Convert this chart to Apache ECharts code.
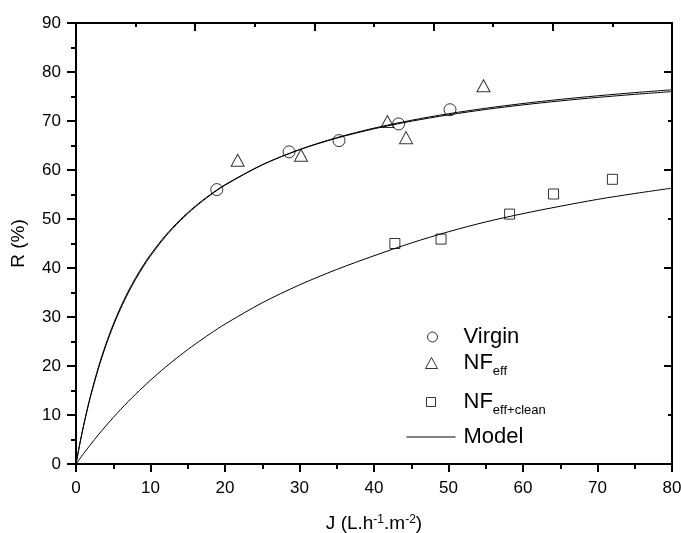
<!DOCTYPE html>
<html>
<head>
<meta charset="utf-8">
<script src="https://cdn.jsdelivr.net/npm/echarts@6/dist/echarts.min.js"></script>
<style>
  html, body { margin: 0; padding: 0; background: #fff; }
  #chart { width: 681px; height: 533px; }
</style>
</head>
<body>
<div id="chart"></div>
<script>
// Measured rejection R (%) against permeate flux J (L.h-1.m-2)
const virginJ = [18.9, 28.6, 35.3, 43.3, 50.2];
const virginR = [56.0, 63.7, 66.0, 69.4, 72.3];

const nfEffJ = [21.7, 30.2, 41.8, 44.3, 54.7];
const nfEffR = [62.0, 63.0, 69.9, 66.6, 77.2];

const nfCleanJ = [42.8, 49.0, 58.2, 64.1, 72.0];
const nfCleanR = [45.0, 45.9, 51.0, 55.1, 58.1];

// Model curves, sampled along the flux axis
const modelJ = [0, 0.5, 1, 1.5, 2, 3, 4, 5, 6, 7, 8, 9, 10, 12, 14, 16, 18, 20,
                25, 30, 35, 40, 45, 50, 55, 60, 65, 70, 75, 80];
const modelVirgin = [0, 4.07, 7.77, 11.15, 14.25, 19.73, 24.43, 28.5, 32.06, 35.21, 38.0, 40.5, 42.75,
                     46.64, 49.88, 52.62, 54.96, 57.0, 61.07, 64.13, 66.5, 68.4, 69.95, 71.25,
                     72.35, 73.29, 74.1, 74.81, 75.44, 76.0];
const modelNfEff = [0, 3.99, 7.63, 10.96, 14.02, 19.44, 24.11, 28.17, 31.73, 34.88, 37.68, 40.2, 42.46,
                    46.39, 49.66, 52.44, 54.83, 56.9, 61.05, 64.17, 66.6, 68.55, 70.14, 71.48,
                    72.6, 73.57, 74.41, 75.14, 75.79, 76.37];
const modelNfClean = [0, 1.05, 2.08, 3.08, 4.06, 5.96, 7.76, 9.49, 11.14, 12.73, 14.24, 15.7, 17.1,
                      19.75, 22.2, 24.46, 26.57, 28.55, 32.9, 36.55, 39.7, 42.5, 45.1, 47.4,
                      49.4, 51.1, 52.6, 54.0, 55.2, 56.3];

const xTicks = { min: 0, max: 80, step: 10 };
const yTicks = { min: 0, max: 90, step: 10 };

const FONT = 'Arial, "Liberation Sans", Helvetica, sans-serif';
const BLACK = '#000';

function pairs(xs, ys) {
  return xs.map((x, i) => [x, ys[i]]);
}

const hollow = { color: 'rgba(255,255,255,0)', borderColor: BLACK, borderWidth: 1 };

const axisLine = { show: true, onZero: false, lineStyle: { color: BLACK, width: 2 } };

const legendText = {
  color: BLACK,
  fontFamily: FONT,
  fontSize: 22,
  lineHeight: 22,
  rich: {
    m: { fontFamily: FONT, fontSize: 22, lineHeight: 22, color: BLACK, verticalAlign: 'top' },
    s: { fontFamily: FONT, fontSize: 13, lineHeight: 13, color: BLACK, verticalAlign: 'top', padding: [13, 0, 0, 0] }
  }
};

const legendLabels = {
  'Virgin': 'Virgin',
  'NF_eff': '{m|NF}{s|eff}',
  'NF_eff+clean': '{m|NF}{s|eff+clean}',
  'Model': 'Model'
};

function legendItem(name, left, top, w, h, padLeft, isLine) {
  const l = {
    data: [name],
    left: left,
    top: top,
    orient: 'vertical',
    padding: 0,
    itemWidth: w,
    itemHeight: h,
    selectedMode: false,
    formatter: n => legendLabels[n],
    textStyle: Object.assign({}, legendText, { padding: [0, 0, 0, padLeft] })
  };
  if (isLine) {
    l.itemStyle = { opacity: 0 };
    l.lineStyle = { color: BLACK, width: 1 };
  } else {
    l.itemStyle = { color: 'rgba(255,255,255,0)', borderColor: BLACK, borderWidth: 1 };
  }
  return l;
}

function modelSeries(values) {
  return {
    name: 'Model', type: 'line', xAxisIndex: 0, yAxisIndex: 0,
    data: pairs(modelJ, values),
    smooth: 0.3, symbol: 'none', showSymbol: false, silent: true,
    lineStyle: { color: BLACK, width: 1 }, itemStyle: { color: BLACK }, z: 2
  };
}

const chart = echarts.init(document.getElementById('chart'), null, { renderer: 'canvas' });

chart.setOption({
  animation: false,
  backgroundColor: '#fff',
  grid: {
    left: 76, right: 9, top: 23, bottom: 69,
    containLabel: false,
    outerBoundsMode: 'none'
  },
  legend: [
    legendItem('Virgin', 427, 326, 10, 10, 21, false),
    legendItem('NF_eff', 425, 352, 12, 11, 21, false),
    legendItem('NF_eff+clean', 426, 391, 9, 9, 23, false),
    legendItem('Model', 406, 426, 49, 14, 3, true)
  ],
  xAxis: [
    {
      type: 'value',
      position: 'bottom',
      min: xTicks.min, max: xTicks.max, interval: xTicks.step,
      axisLine: axisLine,
      axisTick: { show: true, inside: false, length: 8, lineStyle: { color: BLACK, width: 2 } },
      minorTick: { show: true, splitNumber: 2, length: 5, lineStyle: { color: BLACK, width: 2 } },
      axisLabel: { color: BLACK, fontFamily: FONT, fontSize: 17, margin: 16 },
      splitLine: { show: false },
      minorSplitLine: { show: false },
      name: '{m|J (L.h}{u|-1}{m|.m}{u|-2}{m|)}',
      nameLocation: 'middle',
      nameGap: 50,
      nameTextStyle: {
        color: BLACK,
        fontFamily: FONT,
        rich: {
          m: { fontFamily: FONT, fontSize: 19, lineHeight: 22, color: BLACK, verticalAlign: 'top' },
          u: { fontFamily: FONT, fontSize: 12, lineHeight: 12, color: BLACK, verticalAlign: 'top' }
        }
      }
    },
    {
      type: 'value',
      position: 'top',
      min: 0, max: 80, interval: 16,
      axisLine: axisLine,
      axisTick: { show: true, inside: true, length: 8, lineStyle: { color: BLACK, width: 2 } },
      minorTick: { show: true, splitNumber: 2, length: 4, lineStyle: { color: BLACK, width: 2 } },
      axisLabel: { show: false },
      splitLine: { show: false }
    }
  ],
  yAxis: [
    {
      type: 'value',
      position: 'left',
      min: yTicks.min, max: yTicks.max, interval: yTicks.step,
      axisLine: axisLine,
      axisTick: { show: true, inside: false, length: 9, lineStyle: { color: BLACK, width: 2 } },
      minorTick: { show: true, splitNumber: 2, length: 5, lineStyle: { color: BLACK, width: 2 } },
      axisLabel: { color: BLACK, fontFamily: FONT, fontSize: 17, margin: 15 },
      splitLine: { show: false },
      name: 'R (%)',
      nameLocation: 'middle',
      nameGap: 48,
      nameRotate: 90,
      nameTextStyle: { color: BLACK, fontFamily: FONT, fontSize: 19 }
    },
    {
      type: 'value',
      position: 'right',
      min: 0, max: 90, interval: 20,
      axisLine: axisLine,
      axisTick: { show: true, inside: true, length: 8, lineStyle: { color: BLACK, width: 2 } },
      minorTick: { show: true, splitNumber: 2, length: 4, lineStyle: { color: BLACK, width: 2 } },
      axisLabel: { show: false },
      splitLine: { show: false }
    }
  ],
  series: [
    modelSeries(modelVirgin),
    modelSeries(modelNfEff),
    modelSeries(modelNfClean),
    {
      name: 'Virgin', type: 'scatter', xAxisIndex: 0, yAxisIndex: 0,
      data: pairs(virginJ, virginR),
      symbol: 'circle', symbolSize: 12, itemStyle: hollow, z: 3
    },
    {
      name: 'NF_eff', type: 'scatter', xAxisIndex: 0, yAxisIndex: 0,
      data: pairs(nfEffJ, nfEffR),
      symbol: 'triangle', symbolSize: [13, 12], itemStyle: hollow, z: 3
    },
    {
      name: 'NF_eff+clean', type: 'scatter', xAxisIndex: 0, yAxisIndex: 0,
      data: pairs(nfCleanJ, nfCleanR),
      symbol: 'rect', symbolSize: 10, itemStyle: hollow, z: 3
    }
  ]
});
</script>
</body>
</html>
